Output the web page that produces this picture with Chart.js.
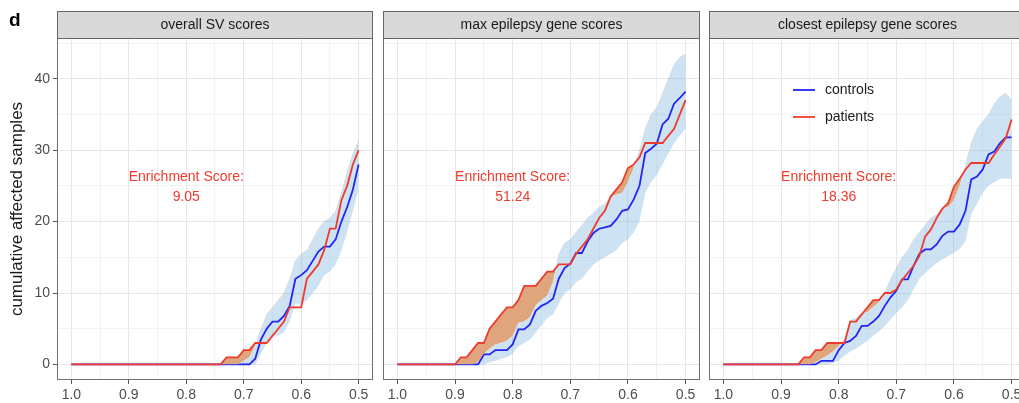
<!DOCTYPE html>
<html>
<head>
<meta charset="utf-8">
<script src="https://cdn.jsdelivr.net/npm/chart.js@4.4.1/dist/chart.umd.min.js"></script>
<style>
    html, body { margin: 0; padding: 0; background: #fff; overflow: hidden; }
    #wrap { position: relative; width: 1019px; height: 403px; overflow: hidden; }
    canvas { position: absolute; top: 0; }
</style>
</head>
<body>
<div id="wrap">
    <canvas id="panel-1" width="380" height="403" style="left:0px"></canvas>
    <canvas id="panel-2" width="330" height="403" style="left:376px"></canvas>
    <canvas id="panel-3" width="330" height="403" style="left:703px"></canvas>
</div>
<script>
// Data (score threshold, descending from 1.0 to 0.5)
const SCORES = [1.00, 0.99, 0.98, 0.97, 0.96, 0.95, 0.94, 0.93, 0.92, 0.91,
                0.90, 0.89, 0.88, 0.87, 0.86, 0.85, 0.84, 0.83, 0.82, 0.81,
                0.80, 0.79, 0.78, 0.77, 0.76, 0.75, 0.74, 0.73, 0.72, 0.71,
                0.70, 0.69, 0.68, 0.67, 0.66, 0.65, 0.64, 0.63, 0.62, 0.61,
                0.60, 0.59, 0.58, 0.57, 0.56, 0.55, 0.54, 0.53, 0.52, 0.51,
                0.50];

const PANEL_TITLES = ['overall SV scores', 'max epilepsy gene scores', 'closest epilepsy gene scores'];
const ENRICH_SCORES = ['9.05', '51.24', '18.36'];
const SERIES_NAMES = ['controls', 'patients'];

// overall SV scores
const svPatients = [0, 0, 0, 0, 0, 0, 0, 0, 0, 0,
                    0, 0, 0, 0, 0, 0, 0, 0, 0, 0,
                    0, 0, 0, 0, 0, 0, 0, 1, 1, 1,
                    2, 2, 3, 3, 3, 4, 5, 6, 8, 8,
                    8, 12, 13, 14, 16, 19, 19, 23, 25, 28,
                    30];
const svControls = [0, 0, 0, 0, 0, 0, 0, 0, 0, 0,
                    0, 0, 0, 0, 0, 0, 0, 0, 0, 0,
                    0, 0, 0, 0, 0, 0, 0, 0, 0, 0,
                    0, 0, 0.8, 3.5, 5, 6, 6, 6.8, 8.2, 12,
                    12.5, 13.2, 14.5, 15.8, 16.5, 16.5, 17.5, 20, 22, 24.5,
                    28];
const svUpper = [0, 0, 0, 0, 0, 0, 0, 0, 0, 0,
                 0, 0, 0, 0, 0, 0, 0, 0, 0, 0,
                 0, 0, 0, 0, 0, 0, 0, 0, 0, 0,
                 0.5, 1, 2.6, 5, 7, 8, 9, 10, 12, 14.5,
                 15.5, 16, 17.5, 19, 20, 20.5, 21.5, 24, 27, 29.5,
                 31.5];
const svLower = [0, 0, 0, 0, 0, 0, 0, 0, 0, 0,
                 0, 0, 0, 0, 0, 0, 0, 0, 0, 0,
                 0, 0, 0, 0, 0, 0, 0, 0, 0, 0,
                 0, 0, 0, 1.5, 3, 4, 4, 4.5, 6, 8.5,
                 8.5, 9, 10, 11, 12.5, 13, 14, 16, 18.5, 21.5,
                 24.5];

// max epilepsy gene scores
const maxPatients = [0, 0, 0, 0, 0, 0, 0, 0, 0, 0,
                     0, 1, 1, 2, 3, 3, 5, 6, 7, 8,
                     8, 9, 11, 11, 11, 12, 13, 13, 14, 14,
                     14, 15.5, 16.5, 17.5, 19, 20.5, 21.5, 23.5, 24.5, 25.5,
                     27.5, 28, 29, 31, 31, 31, 31, 32, 33, 35,
                     37];
const maxControls = [0, 0, 0, 0, 0, 0, 0, 0, 0, 0,
                     0, 0, 0, 0, 0, 1.4, 1.4, 2, 2, 2,
                     2.8, 4.9, 4.9, 5.6, 7.5, 8.2, 8.6, 9.2, 12, 13.5,
                     14.1, 15.6, 15.6, 17.2, 18.4, 19, 19.2, 19.4, 20.3, 21.5,
                     21.7, 23.1, 25, 29.6, 30.2, 30.9, 33.6, 34.4, 36.5, 37.3,
                     38.2];
const maxUpper = [0, 0, 0, 0, 0, 0, 0, 0, 0, 0,
                  0, 0, 0, 0, 0.3, 1.5, 2.2, 2.8, 3, 3.3,
                  4, 5.8, 6, 6.6, 8.3, 9, 9.6, 11.5, 15.5, 17,
                  17.5, 18.5, 19.5, 20.5, 21.2, 22, 22.5, 23.5, 23.8, 24,
                  25.5, 27.5, 30, 33, 35, 36, 38, 40, 42, 43,
                  43.5];
const maxLower = [0, 0, 0, 0, 0, 0, 0, 0, 0, 0,
                  0, 0, 0, 0, 0, 0, 0.3, 0.5, 0.8, 1,
                  1.5, 2.5, 3, 3.5, 4.5, 5.5, 6.5, 7, 8.5, 10,
                  10.5, 11.5, 12, 13, 14, 14.5, 15, 15.5, 16, 17,
                  17.5, 18.5, 20, 24, 25.5, 26.5, 28, 29.5, 31, 32,
                  33];

// closest epilepsy gene scores
const closestPatients = [0, 0, 0, 0, 0, 0, 0, 0, 0, 0,
                         0, 0, 0, 0, 1, 1, 2, 2, 3, 3,
                         3, 3, 6, 6, 7, 8, 9, 9, 10, 10,
                         10.5, 11.8, 12.8, 13.8, 15.2, 17.9, 18.9, 20.5, 21.8, 22.6,
                         24.9, 26, 27.3, 28.2, 28.2, 28.2, 28.2, 29.4, 30.5, 31.7,
                         34.3];
const closestControls = [0, 0, 0, 0, 0, 0, 0, 0, 0, 0,
                         0, 0, 0, 0, 0, 0, 0, 0.5, 0.5, 0.5,
                         2, 3, 3.3, 4, 5.4, 5.4, 6, 6.8, 8.2, 9.4,
                         10.3, 11.9, 11.9, 13.8, 15.5, 16.1, 16.1, 16.8, 18, 18.6,
                         18.6, 19.6, 21.5, 25.9, 26.3, 27.3, 29.4, 29.8, 31, 31.8,
                         31.8];
const closestUpper = [0, 0, 0, 0, 0, 0, 0, 0, 0, 0,
                      0, 0, 0, 0, 0, 0, 0.3, 0.8, 1.2, 1.8,
                      2.6, 3.5, 6.2, 6.5, 7.2, 7.3, 8, 8.7, 10, 12,
                      13.5, 15, 16, 17.5, 18.5, 19.5, 20.5, 21, 22, 22,
                      23, 25, 28, 31, 33, 34, 35, 36.5, 37.5, 38,
                      37];
const closestLower = [0, 0, 0, 0, 0, 0, 0, 0, 0, 0,
                      0, 0, 0, 0, 0, 0, 0, 0, 0, 0.2,
                      0.5, 1.2, 1.8, 2.2, 2.8, 3.3, 4, 4.6, 5.4, 6.3,
                      7.2, 8, 9, 10.5, 12, 12.8, 13.5, 14.2, 14.7, 15.2,
                      15.6, 16.2, 17.2, 21, 22.5, 24, 25, 25.5, 26, 26,
                      26];

// Axis breaks (major + minor grid lines)
const X_TICKS = [0.5, 0.55, 0.6, 0.65, 0.7, 0.75, 0.8, 0.85, 0.9, 0.95, 1.0];
const Y_TICKS = [0, 5, 10, 15, 20, 25, 30, 35, 40, 45];

const panels = [
    { id: 'panel-1', patients: svPatients, controls: svControls, upper: svUpper, lower: svLower },
    { id: 'panel-2', patients: maxPatients, controls: maxControls, upper: maxUpper, lower: maxLower },
    { id: 'panel-3', patients: closestPatients, controls: closestControls, upper: closestUpper, lower: closestLower }
];

// Styles
const FONT = "'Liberation Sans', Arial, Helvetica, sans-serif";
const RED = '#EF3B2C';
const BLUE = '#2424F5';
const RIBBON = 'rgba(135, 188, 226, 0.42)';
const ORANGE = '#DFA67E';
const GRID_MAJOR = '#E6E6E6';
const GRID_MINOR = '#F2F2F2';
const AXIS_TEXT = '#4D4D4D';

const isMajorX = v => Math.abs(v * 10 - Math.round(v * 10)) < 1e-6;
const isMajorY = v => Math.abs(v % 10) < 1e-6;
const toPoints = ys => ys.map((y, i) => ({ x: SCORES[i], y: y }));

// Strip, frame, annotation and legend
const decorPlugin = {
    id: 'decor',
    afterDraw(chart) {
        const { ctx, chartArea: a } = chart;
        const idx = chart.options.plugins.decor.index;
        const xs = chart.scales.x, ys = chart.scales.y;
        ctx.save();

        // panel frame
        ctx.strokeStyle = '#707070';
        ctx.lineWidth = 1;
        ctx.strokeRect(a.left + 0.5, a.top + 0.5, a.right - a.left - 1, a.bottom - a.top - 1);

        // facet strip
        const stripTop = 11;
        ctx.fillStyle = '#D9D9D9';
        ctx.fillRect(a.left, stripTop, a.right - a.left, a.top - stripTop);
        ctx.strokeStyle = '#666';
        ctx.strokeRect(a.left + 0.5, stripTop + 0.5, a.right - a.left - 1, a.top - stripTop);
        ctx.fillStyle = '#1A1A1A';
        ctx.font = `14px ${FONT}`;
        ctx.textAlign = 'center';
        ctx.textBaseline = 'middle';
        ctx.fillText(PANEL_TITLES[idx], (a.left + a.right) / 2, (stripTop + a.top) / 2 + 1);

        // enrichment score
        const cx = xs.getPixelForValue(0.8);
        const cy = ys.getPixelForValue(24.8);
        ctx.fillStyle = RED;
        ctx.font = `14px ${FONT}`;
        ctx.fillText('Enrichment Score:', cx, cy - 10);
        ctx.fillText(ENRICH_SCORES[idx], cx, cy + 10);

        // panel letter
        if (idx === 0) {
            ctx.fillStyle = '#000';
            ctx.font = `bold 19px ${FONT}`;
            ctx.textAlign = 'left';
            ctx.textBaseline = 'alphabetic';
            ctx.fillText('d', 9, 26);
        }

        // legend
        if (idx === 2) {
            const colors = [BLUE, RED];
            SERIES_NAMES.forEach((name, k) => {
                const y = a.top + 52 + k * 27;
                ctx.strokeStyle = colors[k];
                ctx.lineWidth = 1.8;
                ctx.beginPath();
                ctx.moveTo(a.left + 84, y);
                ctx.lineTo(a.left + 106, y);
                ctx.stroke();
                ctx.fillStyle = '#1A1A1A';
                ctx.font = `14px ${FONT}`;
                ctx.textAlign = 'left';
                ctx.textBaseline = 'middle';
                ctx.fillText(name, a.left + 116, y);
            });
        }
        ctx.restore();
    }
};

function makePanel(p, idx) {
    const first = idx === 0;
    const padLeft = [0, 7, 6][idx];
    const padRight = [7, 6, 7][idx];

    return new Chart(document.getElementById(p.id), {
        type: 'line',
        data: {
            datasets: [
                {
                    label: 'patients',
                    data: toPoints(p.patients),
                    borderColor: RED,
                    borderWidth: 1.8,
                    fill: { target: 3, above: ORANGE, below: 'rgba(0,0,0,0)' }
                },
                {
                    label: 'controls',
                    data: toPoints(p.controls),
                    borderColor: BLUE,
                    borderWidth: 1.8,
                    fill: false
                },
                {
                    label: 'lower',
                    data: toPoints(p.lower),
                    borderColor: 'rgba(0,0,0,0)',
                    borderWidth: 0,
                    fill: false
                },
                {
                    label: 'upper',
                    data: toPoints(p.upper),
                    borderColor: 'rgba(0,0,0,0)',
                    borderWidth: 0,
                    backgroundColor: RIBBON,
                    fill: 2
                }
            ]
        },
        options: {
            responsive: false,
            animation: false,
            events: [],
            layout: { autoPadding: false, padding: { left: padLeft, right: padRight, top: 38, bottom: 0 } },
            elements: { point: { radius: 0 }, line: { tension: 0 } },
            plugins: {
                legend: { display: false },
                tooltip: { enabled: false },
                decor: { index: idx }
            },
            scales: {
                x: {
                    type: 'linear',
                    reverse: true,
                    min: 0.475,
                    max: 1.025,
                    afterBuildTicks: s => { s.ticks = X_TICKS.map(v => ({ value: v })); },
                    afterFit: s => { s.height = 23; },
                    border: { display: false },
                    grid: {
                        color: c => isMajorX(c.tick.value) ? GRID_MAJOR : GRID_MINOR,
                        lineWidth: 1,
                        tickLength: 4,
                        tickColor: c => isMajorX(c.tick.value) ? '#555' : 'rgba(0,0,0,0)'
                    },
                    ticks: {
                        autoSkip: false,
                        maxRotation: 0,
                        padding: 3,
                        color: AXIS_TEXT,
                        font: { family: FONT, size: 14 },
                        callback: v => isMajorX(v) ? v.toFixed(1) : ''
                    }
                },
                y: {
                    type: 'linear',
                    min: -2.18,
                    max: 45.7,
                    afterBuildTicks: s => { s.ticks = Y_TICKS.map(v => ({ value: v })); },
                    afterFit: s => { s.width = first ? 57 : 0; },
                    border: { display: false },
                    grid: {
                        color: c => isMajorY(c.tick.value) ? GRID_MAJOR : GRID_MINOR,
                        lineWidth: 1,
                        drawTicks: first,
                        tickLength: first ? 4 : 0,
                        tickColor: c => isMajorY(c.tick.value) ? '#555' : 'rgba(0,0,0,0)'
                    },
                    ticks: {
                        display: first,
                        autoSkip: false,
                        padding: 3,
                        color: AXIS_TEXT,
                        font: { family: FONT, size: 14 },
                        callback: v => isMajorY(v) ? String(v) : ''
                    },
                    title: {
                        display: first,
                        text: 'cumulative affected samples',
                        color: '#1A1A1A',
                        font: { family: FONT, size: 17 },
                        padding: { top: 7, bottom: 0 }
                    }
                }
            }
        },
        plugins: [decorPlugin]
    });
}

panels.forEach(makePanel);
</script>
</body>
</html>
